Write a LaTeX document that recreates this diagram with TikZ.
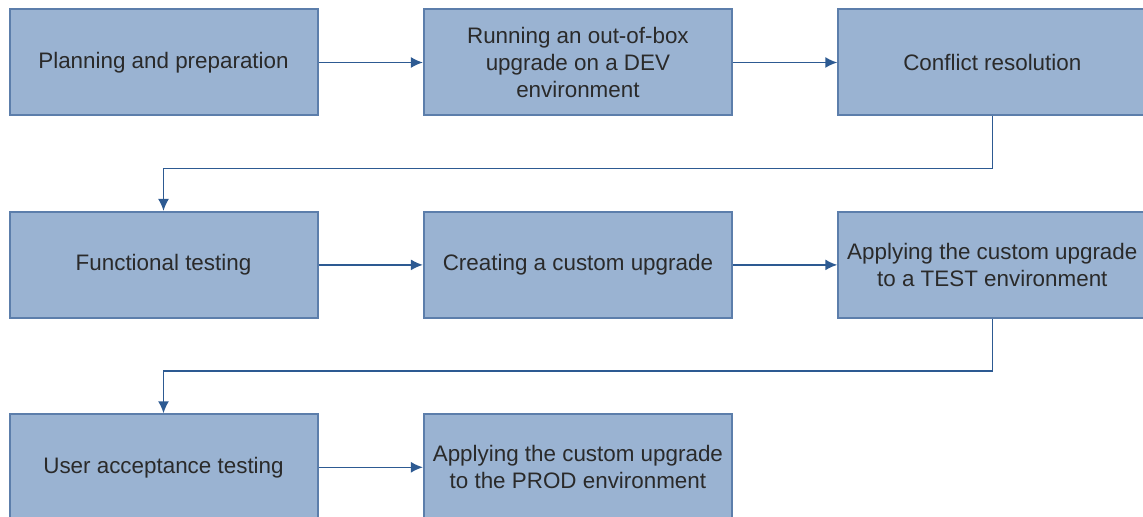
\documentclass[tikz,border=0pt]{standalone}
\usepackage{fontspec}
\setmainfont{Liberation Sans}
\usetikzlibrary{positioning, arrows.meta}
\definecolor{boxfill}{HTML}{9AB3D2}
\definecolor{boxline}{HTML}{5C7EAB}
\definecolor{arrowcol}{HTML}{2D5A92}
\definecolor{textcol}{HTML}{2A2A2A}

\begin{document}
\begin{tikzpicture}[
    x=0.5pt, y=-0.5pt,
    node distance=47.2pt and 52.2pt,
    box/.style={rectangle, draw=boxline, fill=boxfill, line width=1pt, minimum width=154pt, minimum height=53pt, align=center, text=textcol, font=\fontsize{11.2pt}{13.5pt}\selectfont, inner sep=2pt},
    arrow/.style={-{Latex[length=6pt, width=5.5pt]}, draw=arrowcol, line width=0.8pt}
]
    \useasboundingbox (0,0) rectangle (1143,517);
    \clip (0,0) rectangle (1143,517);
    % Row 1
    \node[box] (plan) at (163.5,62.5) {Planning and preparation};
    \node[box, right=of plan] (oob) {Running an out-of-box\\upgrade on a DEV\\environment};
    \node[box, right=of oob] (conf) {Conflict resolution};
    % Row 2
    \node[box, below=of plan] (func) {Functional testing};
    \node[box, right=of func] (cust) {Creating a custom upgrade};
    \node[box, right=of cust] (test) {Applying the custom upgrade\\to a TEST environment};
    % Row 3
    \node[box, below=of func] (uat) {User acceptance testing};
    \node[box, right=of uat] (prod) {Applying the custom upgrade\\to the PROD environment};
    % Arrows
    \draw[arrow] (plan) -- (oob);
    \draw[arrow] (oob) -- (conf);
    \draw[arrow] (conf.south) -- ++(0,52) -| (func.north);
    \draw[arrow] (func) -- (cust);
    \draw[arrow] (cust) -- (test);
    \draw[arrow] (test.south) -- ++(0,52) -| (uat.north);
    \draw[arrow] (uat) -- (prod);
\end{tikzpicture}
\end{document}
